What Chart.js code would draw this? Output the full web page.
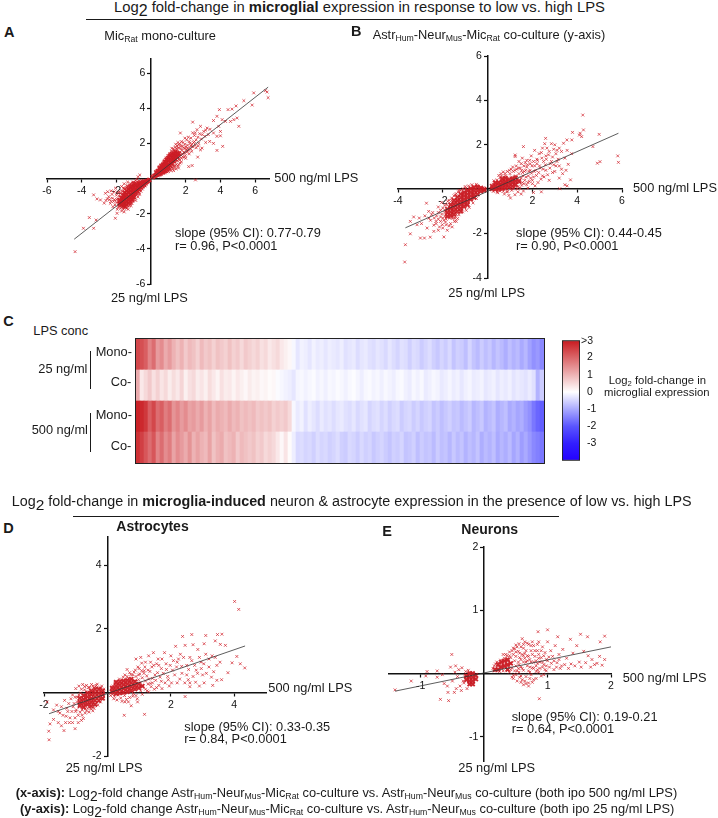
<!DOCTYPE html>
<html>
<head>
<meta charset="utf-8">
<script src="https://cdn.jsdelivr.net/npm/chart.js@4"></script>
<style>
  html, body { margin: 0; padding: 0; background: #fff; }
  #page { position: relative; width: 718px; height: 818px; overflow: hidden; font-family: "Liberation Sans", Arial, sans-serif; color: #1a1a1a; }
  #page canvas { position: absolute; }
  .t { position: absolute; white-space: nowrap; line-height: 1; transform: translateY(-50%); }
  .t sub { font-size: 0.68em; line-height: 0; vertical-align: -0.25em; }
  .t sub.big { font-size: 1.08em; vertical-align: -0.3em; }
  .rule { position: absolute; background: #1a1a1a; }
</style>
</head>
<body>
<div id="page"></div>
<script>
// Panel A values (x = 500 ng/ml, y = 25 ng/ml)
const slopeA = [[-4.43, -3.45], [6.75, 5.2]];
const pointsAOuter = [[6.69,4.92],[6.75,4.6],[6.6,5],[5.92,4.87],[5.35,4.43],[5.83,4.18],[4.9,4.13],[3.94,3.92],[4.44,3.92],[4.67,3.95],[3.8,3.54],[3.6,3.3],[4.1,3.35],[4.29,3.25],[4.58,3.25],[4.77,3.35],[4.96,3.44],[5.06,2.97],[2.4,3.21],[3.9,2.97],[4,2.68],[4.13,1.83],[3.8,1.6],[3.6,2],[3.38,2.11],[3.8,2.4],[4,2.43],[2.85,1.63],[2.94,1.73],[2.69,1.22],[2.37,0.74],[2.17,0.68],[2.56,-0.08],[3.23,2.87],[3.6,2.59],[3.04,2.68],[2.65,2.78],[2.85,2.97],[1.69,2.59],[3.3,2.5],[3.1,2.4],[2.8,2.55],[2.5,2.45],[2.3,2.3],[2.6,2.2],[2.9,2.25],[2.2,2.1],[2.45,2.05],[2.05,2.2],[2.75,2],[3.15,2.05],[2.3,1.85],[2.6,1.75],[2.1,1.9],[1.95,1.95],[2.35,1.55],[2.05,1.65],[1.85,2.05],[2.2,1.4],[1.9,1.2],[1.75,0.95],[1.6,0.8],[2,1.15],[1.45,0.55],[1.3,0.45]];
const pointsAPos = [[0.1,0.08],[0.15,0.1],[0.2,0.18],[0.25,0.15],[0.3,0.28],[0.3,0.18],[0.35,0.3],[0.38,0.22],[0.4,0.4],[0.42,0.3],[0.45,0.25],[0.48,0.45],[0.5,0.35],[0.52,0.5],[0.55,0.3],[0.55,0.42],[0.58,0.55],[0.6,0.4],[0.62,0.62],[0.62,0.33],[0.65,0.5],[0.68,0.7],[0.7,0.42],[0.7,0.58],[0.72,0.78],[0.75,0.5],[0.75,0.65],[0.78,0.38],[0.8,0.85],[0.8,0.58],[0.82,0.72],[0.85,0.45],[0.85,0.95],[0.88,0.65],[0.9,0.8],[0.9,0.52],[0.92,1.05],[0.95,0.7],[0.95,0.9],[0.98,0.48],[1,1.15],[1,0.82],[1.02,0.62],[1.05,1],[1.08,0.72],[1.1,1.25],[1.1,0.9],[1.12,0.55],[1.15,1.1],[1.18,0.8],[1.2,1.35],[1.2,0.98],[1.22,0.65],[1.25,1.2],[1.28,0.88],[1.3,1.45],[1.3,1.05],[1.32,0.7],[1.35,1.28],[1.38,0.95],[1.4,1.55],[1.4,1.12],[1.45,1.38],[1.45,0.8],[1.5,1.65],[1.5,1.2],[1.52,1],[1.55,1.45],[1.58,0.6],[1.6,1.75],[1.6,1.28],[1.65,1.5],[1.65,1.05],[1.7,1.85],[1.7,1.35],[1.78,1.6],[1.82,1.25],[1.88,1.75],[1.92,1.45],[2,1.8],[2.1,1.55],[0.58,0.72],[0.68,0.85],[0.78,1],[0.88,1.18],[0.98,1.3],[1.08,1.42],[1.18,1.55],[1.28,1.68],[1.38,1.78],[0.45,0.55],[0.36,0.42],[0.72,0.3],[0.92,0.38],[1.5,1.85],[1.2,1.72],[1.65,1.98],[1.42,1.95]];
const pointsANeg = [[-4.38,-4.16],[-3.9,-2.83],[-3.31,-2.83],[-3.56,-2.22],[-3.17,-2.36],[-3.31,-0.93],[-3.12,-1.16],[-2.92,-1.22],[-2.63,-0.84],[-2.44,-1.03],[-2.35,-1.41],[-2.06,-2.26],[-1.96,-1.98],[-2.2,-1.6],[-2.7,-1.4],[-2.5,-0.75],[-2.25,-0.9],[-2.1,-1.2],[-2.05,-0.55],[-1.9,-1.65],[-1.85,-1.3],[-1.82,-0.75],[-1.75,-1.05],[-1.7,-0.45],[-1.7,-1.85],[-1.65,-1.45],[-1.6,-0.8],[-1.58,-1.15],[-1.55,-0.55],[-1.5,-1.65],[-1.48,-1.3],[-1.45,-0.95],[-1.42,-0.7],[-1.4,-1.5],[-1.38,-0.4],[-1.35,-1.15],[-1.32,-1.75],[-1.3,-0.85],[-1.28,-0.55],[-1.25,-1.35],[-1.22,-1],[-1.2,-0.3],[-1.18,-0.7],[-1.15,-1.55],[-1.12,-1.15],[-1.1,-0.85],[-1.08,-0.5],[-1.05,-1.3],[-1.02,-0.95],[-1,-0.2],[-0.98,-0.65],[-0.95,-1.1],[-0.92,-0.8],[-0.9,-0.45],[-0.88,-1.25],[-0.85,-0.95],[-0.82,-0.3],[-0.8,-0.6],[-0.78,-0.78],[-0.75,-1.05],[-0.72,-0.45],[-0.7,-0.15],[-0.68,-0.65],[-0.65,-0.88],[-0.62,-0.35],[-0.6,-0.52],[-0.58,-0.72],[-0.55,-0.2],[-0.52,-0.42],[-0.5,-0.6],[-0.48,-0.3],[-0.45,-0.48],[-0.42,-0.1],[-0.4,-0.36],[-0.38,-0.22],[-0.35,-0.42],[-0.32,-0.28],[-0.3,-0.12],[-0.28,-0.34],[-0.25,-0.2],[-0.22,-0.1],[-0.2,-0.24],[-0.18,-0.14],[-0.15,-0.08],[-0.12,-0.12],[-0.1,-0.05],[-0.75,0.1],[-0.65,0.2],[-0.8,-0.05],[-0.9,-0.12],[-1.35,-0.2],[-1.55,-0.3],[-1.62,-1.02],[-1.46,-1.12],[-1.34,-0.62],[-1.16,-0.42],[-1.28,-1.08],[-1.12,-0.62],[-1,-0.8],[-1.06,-0.72],[-0.94,-0.56],[-0.86,-0.7],[-1.2,-1.22],[-1.38,-1.02],[-0.7,-0.9],[-1.1,-1.42],[-1,-1.2]];
const pointsAMid = [[-0.55,-0.12],[-0.62,-0.18],[-0.78,-0.2],[-0.88,-0.24],[-0.95,-0.28],[-1.06,-0.2],[-1.14,-0.3],[-1.24,-0.38],[-1.36,-0.45],[-1.44,-0.52],[-1.52,-0.62],[-1.6,-0.55],[-1.68,-0.7],[-1.76,-0.85],[-1.84,-1],[-1.92,-1.15],[-2,-1.35],[-2.08,-1.5],[-2.16,-1.3],[-2.24,-1.12],[-2.3,-1.3],[-2,-0.95],[-1.92,-0.8],[-2.12,-0.75],[-2.3,-0.7],[-2.4,-1.2],[-2.52,-1.15],[-2.6,-1.25],[-1.95,-1.75],[-1.85,-1.55],[-1.75,-1.7],[-1.6,-1.75],[-1.55,-1.9],[-1.42,-1.7],[-1.25,-1.55],[-1.18,-1.42],[-1.08,-1.25],[-0.92,-1],[-0.82,-0.88],[-0.72,-0.75],[-0.62,-0.62],[-1.98,-1.2],[-1.88,-1.42],[-1.78,-1.2],
  [0.4,0.15],[0.5,0.18],[0.6,0.22],[0.68,0.3],[0.82,0.32],[0.88,0.42],[1,0.4],[1.06,0.52],[1.15,0.45],[1.25,0.55],[1.35,0.6],[1.4,0.72],[1.55,0.72],[1.6,1.1],[1.68,0.88],[1.75,1.15],[1.8,1.4],[1.9,1.5],[1.95,1.7],[1.98,1.3],[2.05,1.5],[2.12,1.75],[2.18,1.6],[2.25,2],[2.28,1.7],[2.35,1.95],[2.42,1.8],[2.5,2.1],[2.55,1.9],[2.7,2.35],[2.72,1.85],[1.72,1.7],[1.8,1.85],[1.58,1.92],[1.48,1.72],[1.35,1.62],[1.25,1.52],[1.12,1.38],[1,1.3],[0.82,1.08],[0.7,0.92],[0.58,0.78],[0.48,0.65],[1.55,2.05],[1.75,2.1],[1.95,2.3],[2.15,2.35],[2.4,2.6],[2.55,2.6],[2.95,2.5],[3.15,2.75],[3.4,2.8]];
const coreA = [[0.1,0.08],[0.2,0.15],[0.3,0.2],[0.3,0.35],[0.4,0.25],[0.4,0.42],[0.5,0.28],[0.5,0.45],[0.5,0.6],[0.6,0.35],[0.6,0.52],[0.6,0.7],[0.7,0.4],[0.7,0.58],[0.7,0.78],[0.8,0.45],[0.8,0.62],[0.8,0.82],[0.8,0.95],[0.9,0.55],[0.9,0.72],[0.9,0.92],[0.9,1.08],[1,0.6],[1,0.8],[1,1],[1,1.18],[1.1,0.72],[1.1,0.9],[1.1,1.1],[1.1,1.3],[1.2,0.85],[1.2,1.02],[1.2,1.22],[1.2,1.4],[1.3,1],[1.3,1.18],[1.3,1.36],[1.4,1.1],[1.4,1.3],[1.4,1.5],[1.5,1.25],[1.5,1.45],[1.6,1.4],
  [-0.1,-0.08],[-0.2,-0.15],[-0.3,-0.22],[-0.4,-0.2],[-0.4,-0.35],[-0.5,-0.25],[-0.5,-0.42],[-0.6,-0.3],[-0.6,-0.5],[-0.7,-0.28],[-0.7,-0.45],[-0.7,-0.62],[-0.8,-0.35],[-0.8,-0.52],[-0.8,-0.7],[-0.9,-0.4],[-0.9,-0.6],[-0.9,-0.8],[-1,-0.3],[-1,-0.48],[-1,-0.68],[-1,-0.88],[-1,-1.05],[-1.1,-0.45],[-1.1,-0.62],[-1.1,-0.8],[-1.1,-1],[-1.1,-1.2],[-1.2,-0.5],[-1.2,-0.7],[-1.2,-0.9],[-1.2,-1.1],[-1.2,-1.3],[-1.3,-0.6],[-1.3,-0.8],[-1.3,-1],[-1.3,-1.2],[-1.3,-1.4],[-1.4,-0.7],[-1.4,-0.9],[-1.4,-1.1],[-1.4,-1.3],[-1.4,-1.5],[-1.5,-0.8],[-1.5,-1],[-1.5,-1.2],[-1.5,-1.4],[-1.5,-1.6],[-1.6,-0.95],[-1.6,-1.15],[-1.6,-1.35],[-1.6,-1.55],[-1.7,-1.1],[-1.7,-1.3],[-1.7,-1.5],[-1.8,-1.25],[-1.8,-1.45]];

// Panel B values
const slopeB = [[-3.67, -1.74], [5.84, 2.52]];
const pointsBOuter = [[4.25,3.34],[4.28,2.67],[4.2,2.37],[4.13,2.52],[4.1,2.44],[3.79,2.56],[4.98,2.47],[4.7,1.92],[5.81,1.5],[5.84,1.21],[5.02,1.24],[4.9,1.17],[2.59,2.29],[1.6,1.92],[1.23,1.54],[1.23,1.47],[3.54,2.22],[3.76,2.22],[3.39,2.07],[3.2,1.85],[3,2],[2.85,2.05],[2.55,2.05],[2.45,1.85],[2.75,1.7],[3.05,1.6],[3.3,1.7],[3.55,1.75],[3.75,1.6],[3.45,1.4],[3.15,1.35],[2.9,1.45],[2.6,1.5],[2.3,1.6],[2.1,1.75],[1.95,1.5],[2.2,1.35],[2.5,1.25],[2.8,1.15],[3.05,1.05],[3.6,1.12],[3.5,0.85],[3.35,0.7],[3.7,0.42],[3.2,0.5],[3.45,0.2],[3.55,0.15],[3.22,0.02],[2.9,0.75],[2.75,0.4],[2.6,0.85],[2.45,0.6],[2.35,0.95],[2.25,0.3],[2.4,-0.12],[2.05,-0.15],[1.8,0.05],[2.05,0.55],[1.9,0.85],[2.1,1.05],[1.75,1.3],[1.55,1.4],[1.4,1.25]];
const pointsBPos = [[0.22,0.02],[0.22,0.12],[0.25,0.22],[0.28,0.06],[0.3,0.3],[0.32,-0.04],[0.34,0.16],[0.38,0.06],[0.4,0.26],[0.42,0.42],[0.45,0.12],[0.46,-0.06],[0.5,0.32],[0.52,0.2],[0.54,0.05],[0.56,0.52],[0.6,0.14],[0.62,0.38],[0.64,0.26],[0.66,-0.02],[0.7,0.08],[0.72,0.46],[0.74,0.2],[0.78,0.32],[0.8,0.6],[0.82,0.1],[0.85,0.4],[0.88,0.22],[0.9,-0.1],[0.92,0.5],[0.95,0.3],[0.98,0.12],[1,0.7],[1.02,0.4],[1.05,0.2],[1.08,0.55],[1.1,0.02],[1.12,0.32],[1.15,0.8],[1.18,0.45],[1.2,0.15],[1.22,-0.25],[1.25,0.6],[1.28,0.3],[1.3,0.9],[1.34,0.45],[1.36,0.12],[1.4,0.7],[1.42,0.3],[1.46,0.95],[1.5,0.5],[1.52,0.18],[1.56,0.75],[1.6,-0.08],[1.62,1.05],[1.66,0.4],[1.7,0.85],[1.74,0.2],[1.78,1.1],[1.82,0.6],[1.86,0.35],[1.9,1.15],[1.96,0.72],[2,0.25],[2.15,0.85],[2.2,1.15],[0.5,0.62],[0.6,0.7],[0.7,0.78],[0.28,0.38],[0.45,-0.16],[0.75,-0.22],[0.95,-0.28],[1.02,-0.4],[1.35,-0.12],[1.5,-0.22]];
const pointsBNeg = [[-3.67,-2.5],[-3.7,-3.28],[-3.45,-1.45],[-3.45,-2.01],[-3.05,-1.3],[-3,-2.2],[-2.82,-2.2],[-2.56,-2.16],[-2.73,-0.63],[-2.63,-1],[-3.3,-1.25],[-3.15,-1.6],[-2.95,-1.55],[-2.8,-1.2],[-2.7,-1.75],[-2.55,-1.4],[-2.4,-1.9],[-2.45,-1.05],[-2.3,-1.55],[-2.2,-0.8],[-2.2,-1.85],[-2.1,-1.25],[-2.05,-0.6],[-2.02,-1.6],[-1.95,-2.15],[-1.9,-0.95],[-1.85,-1.35],[-1.8,-1.85],[-1.78,-0.55],[-1.72,-1.15],[-1.68,-0.85],[-1.65,-1.55],[-1.6,-0.4],[-1.58,-1.3],[-1.55,-1],[-1.5,-0.7],[-1.48,-1.45],[-1.45,-0.25],[-1.42,-0.9],[-1.4,-1.15],[-1.36,-0.55],[-1.34,-1.32],[-1.28,-0.05],[-1.12,-0.2],[-0.98,0.05],[-0.82,-0.02],[-0.64,0.1],[-0.48,0.16],[-0.3,0.1],[-0.2,0.06]];
const pointsBMid = [[0.25,-0.1],[0.42,-0.12],[0.55,-0.08],[0.62,0.6],[0.7,-0.1],[0.78,0.7],[0.85,-0.12],[0.88,0.8],[0.98,0.85],[1.05,0.9],[1.08,-0.05],[1.12,1],[1.18,0.05],[1.22,0.85],[1.28,1.05],[1.32,0.02],[1.38,0.95],[1.45,0.05],[1.5,1.15],[1.52,0.85],[1.55,0.3],[1.58,0.6],[1.62,0.25],[1.65,0.8],[1.68,1.2],[1.72,0.55],[1.75,1],[1.8,0.3],[1.85,0.8],[1.88,1.3],[1.92,0.5],[1.98,1.05],[2,0.4],[2.05,1.25],[2.08,0.8],[2.12,0.15],[2.18,0.62],[2.22,1.3],[2.28,0.75],[2.32,1.05],[2.38,0.45],[2.42,1.4],[2.48,0.9],[2.52,0.55],[2.58,1.1],[2.62,1.35],[2.68,0.65],[2.72,1.55],[2.78,0.95],[2.85,1.25],[2.95,1.1],[3,0.8],[3.1,1.25],[3.2,1.05],[3.3,0.9],[2.4,1.65],[2.65,1.85],[2.95,1.8],[3.1,1.75],
  [-0.5,0.22],[-0.7,0.2],[-0.85,0.15],[-1,0.12],[-1.1,0.02],[-1.2,-0.05],[-1.3,-0.12],[-1.4,-0.2],[-1.5,-0.3],[-1.6,-0.5],[-1.72,-0.5],[-1.82,-0.7],[-1.92,-0.72],[-2,-0.85],[-2.1,-0.95],[-2.2,-1.05],[-2.28,-1.2],[-2.38,-1.3],[-2.5,-1.15],[-2.62,-1.3],[-2.1,-1.45],[-2,-1.3],[-1.9,-1.2],[-1.95,-1.4],[-1.85,-1.6],[-1.72,-1.65],[-1.58,-1.7],[-1.45,-1.3],[-1.28,-1.15],[-1.12,-1.02],[-0.95,-0.95],[-0.82,-0.82],[-0.65,-0.62],[-0.5,-0.42],[-2.2,-1.35],[-2.3,-1.45],[-2.4,-1.62],[-2.15,-1.7],[-2,-1.75],[-1.88,-1.48],[-1.52,-1.3],[-1.4,-1.45],[-1.68,-1.3],[-1.78,-1.05],[-1.9,-1.05],[-2.05,-1.12]];
const coreB = [[-0.15,0],[-0.15,-0.05],[-0.3,0.05],[-0.3,-0.1],[-0.45,0.1],[-0.45,-0.06],[-0.45,-0.22],[-0.6,0.08],[-0.6,-0.08],[-0.6,-0.24],[-0.6,-0.38],[-0.75,0.02],[-0.75,-0.14],[-0.75,-0.3],[-0.75,-0.46],[-0.9,-0.06],[-0.9,-0.22],[-0.9,-0.38],[-0.9,-0.54],[-0.9,-0.7],[-1.05,-0.14],[-1.05,-0.3],[-1.05,-0.46],[-1.05,-0.62],[-1.05,-0.78],[-1.2,-0.22],[-1.2,-0.38],[-1.2,-0.54],[-1.2,-0.7],[-1.2,-0.86],[-1.2,-1],[-1.35,-0.36],[-1.35,-0.52],[-1.35,-0.68],[-1.35,-0.84],[-1.35,-1],[-1.5,-0.5],[-1.5,-0.66],[-1.5,-0.82],[-1.5,-0.98],[-1.5,-1.14],[-1.65,-0.7],[-1.65,-0.86],[-1.65,-1.02],[-1.65,-1.18],[-1.8,-0.9],[-1.8,-1.06],[-1.8,-1.22],
  [0.2,0.02],[0.2,0.14],[0.35,0],[0.35,0.14],[0.35,0.28],[0.5,0.02],[0.5,0.16],[0.5,0.3],[0.65,0.04],[0.65,0.18],[0.65,0.32],[0.65,0.46],[0.8,0.06],[0.8,0.2],[0.8,0.34],[0.8,0.5],[0.95,0.1],[0.95,0.26],[0.95,0.42],[1.1,0.14],[1.1,0.3],[1.1,0.46],[1.25,0.2],[1.25,0.36],[1.25,0.52],[1.4,0.36]];

// Panel D values
const slopeD = [[-1.84, -0.67], [4.34, 1.46]];
const pointsDOuter = [[4.01,2.86],[4.14,2.61],[2.66,1.82],[2.37,1.76],[3.1,1.79],[3.47,1.82],[3.61,1.83],[3.72,1.48],[3.56,1.51],[3.4,1.62],[3.05,1.53],[4.33,0.77],[4.19,0.9],[3.93,0.93],[4.08,1.13],[3.8,0.62],[3.45,0.38],[3.32,0.22],[0.53,-0.72],[1.17,-0.69],[2.45,-0.13],[3.55,0.95],[3.45,0.85],[3.3,1.15],[3.2,0.8],[3.1,1.2],[3,0.55],[2.95,0.95],[2.85,1.35],[2.8,0.7],[2.7,1.5],[2.6,1.1],[2.55,0.4],[2.5,0.85],[2.45,1.48],[2.35,0.6],[2.3,1.2],[2.2,0.3],[2.2,0.95],[2.15,1.45],[2.05,0.7],[2,1.15],[1.95,0.2],[1.9,0.5],[1.85,0.9],[1.8,1.25],[1.7,0.35],[1.7,0.75],[1.6,1.05],[1.55,0.15],[1.5,0.55],[1.45,1.25],[1.4,0.8],[1.3,1.15],[1.3,0.42],[1.25,0.05],[1.2,0.95],[1.15,0.6],[1.05,1.1],[1,0.75],[0.9,1.05],[2.6,0.18],[2.9,0.2],[3.6,0.4],[3.05,0.3],[2.75,0.85],[3.35,0.65],[0.95,-0.3],[0.75,-0.42],[0.55,-0.3]];
const pointsDPos = [[0.12,0.02],[0.14,0.12],[0.16,-0.06],[0.18,0.2],[0.2,0.06],[0.22,-0.12],[0.24,0.28],[0.26,0.14],[0.28,0.02],[0.3,0.34],[0.32,0.2],[0.34,-0.08],[0.36,0.08],[0.38,0.42],[0.4,0.26],[0.42,-0.18],[0.44,0.14],[0.46,0.34],[0.48,0.02],[0.5,0.48],[0.52,0.22],[0.54,-0.1],[0.56,0.38],[0.58,0.12],[0.6,0.28],[0.62,0.72],[0.64,0.04],[0.66,0.44],[0.68,0.2],[0.7,-0.16],[0.72,0.32],[0.74,0.56],[0.76,0.1],[0.78,0.42],[0.8,0.24],[0.82,-0.04],[0.84,0.64],[0.86,0.36],[0.88,0.16],[0.9,0.5],[0.92,0.28],[0.94,-0.2],[0.96,0.8],[0.98,0.4],[1,0.14],[1.02,0.58],[1.04,0.3],[1.08,0.92],[1.1,0.46],[1.12,0.2],[1.16,0.68],[1.2,0.36],[1.24,0.52],[1.28,0.26],[1.34,0.66],[1.38,0.18],[1.42,0.44]];
const pointsDNeg = [[-1.84,-1.49],[-1.85,-1.22],[-1.81,-0.99],[-1.37,-1.2],[-1.02,-1.14],[-1.9,-0.3],[-1.6,-0.4],[-1.7,-0.85],[-1.55,-0.95],[-1.5,-0.65],[-1.45,-1.05],[-1.35,-0.25],[-1.3,-0.75],[-1.28,-0.5],[-1.2,-0.95],[-1.15,-0.2],[-1.12,-0.6],[-1.1,-0.08],[-1.05,-0.35],[-1.02,-0.8],[-1,0.12],[-0.98,-0.55],[-0.95,-0.15],[-0.92,-0.72],[-0.9,0.2],[-0.88,-0.38],[-0.85,-0.02],[-0.82,-0.88],[-0.8,-0.55],[-0.78,0.25],[-0.76,-0.22],[-0.74,-0.42],[-0.72,0.08],[-0.7,-0.65],[-0.68,-0.12],[-0.66,0.22],[-0.64,-0.32],[-0.62,-0.5],[-0.6,0.02],[-0.58,-0.2],[-0.56,0.16],[-0.54,-0.42],[-0.52,-0.08],[-0.5,0.25],[-0.48,-0.28],[-0.46,-0.58],[-0.44,0.06],[-0.38,0.18],[-0.32,0.26],[-0.24,0.14],[-0.18,0.2],[-0.12,0.1]];
const pointsDMid = [[0.1,-0.1],[0.2,-0.2],[0.3,-0.24],[0.46,-0.28],[0.6,-0.22],[0.66,-0.3],[0.8,-0.12],[0.9,-0.1],[1.05,0.05],[1.1,-0.06],[1.2,0.1],[1.3,0.02],[1.35,0.28],[1.42,0.3],[1.48,0.1],[1.52,0.38],[1.58,0.62],[1.62,0.22],[1.66,0.48],[1.72,0.12],[1.76,0.6],[1.82,0.3],[1.86,0.72],[1.92,0.4],[1.98,0.85],[2.02,0.3],[2.08,1],[2.12,0.55],[2.18,0.8],[2.24,1.05],[2.28,0.42],[2.34,0.82],[2.4,1.1],[2.44,0.3],[2.5,0.55],[2.56,0.72],[2.6,0.3],[2.66,1],[2.7,0.5],[2.78,0.32],[2.84,0.6],[2.9,1.1],[2.96,0.75],[3.04,0.9],[3.12,0.6],[3.2,1.05],[3.28,0.48],[3.4,1.1],[0.55,0.55],[0.62,0.5],[0.7,0.62],[0.8,0.55],[0.88,0.7],[0.98,0.55],[1.08,0.68],[1.18,0.8],[1.28,0.7],[1.36,0.95],[1.46,0.85],[1.55,0.9],[1.62,0.85],[1.72,1.05],
  [-1.7,-0.55],[-1.55,-0.6],[-1.45,-0.45],[-1.4,-0.72],[-1.32,-0.95],[-1.25,-0.6],[-1.22,-0.35],[-1.18,-0.8],[-1.1,-0.95],[-1.08,-0.45],[-1.02,-0.15],[-1,-0.6],[-0.95,-0.3],[-0.92,-0.95],[-0.9,-0.08],[-0.86,-0.62],[-0.82,0.1],[-0.8,-0.72],[-0.76,-0.82],[-0.72,0.18],[-0.7,-0.52],[-0.66,-0.58],[-0.6,0.15],[-0.58,-0.62],[-0.52,-0.52],[-0.46,0.2],[-0.42,-0.5],[-0.35,0.22],[-0.3,-0.4],[-0.22,-0.3],[-0.2,0.14]];
const coreD = [[-0.15,0.05],[-0.15,-0.07],[-0.15,-0.19],[-0.27,0.1],[-0.27,-0.02],[-0.27,-0.14],[-0.27,-0.26],[-0.39,0.1],[-0.39,-0.02],[-0.39,-0.14],[-0.39,-0.26],[-0.39,-0.38],[-0.51,0.05],[-0.51,-0.07],[-0.51,-0.19],[-0.51,-0.31],[-0.51,-0.43],[-0.63,-0.02],[-0.63,-0.14],[-0.63,-0.26],[-0.63,-0.38],[-0.75,-0.1],[-0.75,-0.22],[-0.75,-0.34],[-0.75,-0.46],[-0.87,-0.18],[-0.87,-0.3],[-0.87,-0.42],
  [0.15,0.02],[0.15,0.14],[0.27,-0.04],[0.27,0.08],[0.27,0.2],[0.27,0.32],[0.39,-0.02],[0.39,0.1],[0.39,0.22],[0.39,0.34],[0.51,0],[0.51,0.12],[0.51,0.24],[0.51,0.36],[0.63,0.02],[0.63,0.14],[0.63,0.26],[0.63,0.38],[0.75,0.06],[0.75,0.18],[0.75,0.3],[0.75,0.42],[0.87,0.1],[0.87,0.22],[0.87,0.34],[0.99,0.14],[0.99,0.26],[1.1,0.2]];

// Panel E values
const slopeE = [[-1.405, -0.28], [2, 0.42]];
const pointsEOuter = [[-1.405,-0.26],[-0.51,0.3],[-0.69,-0.41],[-0.56,-0.43],[0.87,-0.4],[0.85,0.66],[1,0.69],[1.52,0.62],[1.9,0.59],[1.83,0.5],[1.63,0.58],[1.36,0.54],[1.16,0.58],[-0.92,-0.04],[-0.9,0.03],[-0.74,-0.06],[-0.74,0.04],[-0.66,-0.02],[-0.63,-0.16],[-0.58,-0.2],[-0.57,-0.3],[-0.53,0.1],[-0.5,-0.12],[-0.47,-0.3],[-0.45,0.12],[-0.44,-0.24],[-0.42,-0.05],[-0.46,0.02],[-0.4,0.06],[-0.38,-0.2],[-0.36,-0.27],[-0.35,0.09],[-0.33,-0.12],[-0.3,-0.05],[-0.29,0.03],[-0.27,-0.24],[-0.25,0.05],[-0.32,-0.15],[-1.15,-0.12]];
const pointsEPos = [[0.14,0.08],[0.16,0.04],[0.16,0.12],[0.18,0.15],[0.2,0.06],[0.2,0.18],[0.22,0.11],[0.24,0.03],[0.24,0.16],[0.26,0.21],[0.26,0.09],[0.28,0.13],[0.3,0.04],[0.3,0.18],[0.32,0.24],[0.32,0.1],[0.34,0.15],[0.36,0.06],[0.36,0.28],[0.38,0.2],[0.38,0.12],[0.4,0.34],[0.4,0.02],[0.42,0.16],[0.42,0.25],[0.44,0.09],[0.46,0.3],[0.46,-0.03],[0.48,0.2],[0.48,0.39],[0.5,0.12],[0.5,0.27],[0.52,0.04],[0.54,0.35],[0.54,0.18],[0.56,-0.06],[0.56,0.25],[0.58,0.42],[0.58,0.1],[0.6,0.3],[0.6,-0.1],[0.62,0.18],[0.62,0.05],[0.64,0.5],[0.64,0.24],[0.66,-0.05],[0.66,0.36],[0.68,0.12],[0.7,0.46],[0.7,0.27],[0.7,-0.15],[0.72,0.02],[0.74,0.36],[0.74,0.18],[0.76,0.09],[0.78,0.44],[0.78,-0.1],[0.8,0.27],[0.82,0.03],[0.84,0.16],[0.84,0.36],[0.86,0.5],[0.88,0.08],[0.9,0.25],[0.9,-0.04],[0.92,0.42],[0.94,0.14],[0.96,0.33],[0.98,0.04],[1,0.5],[1,0.2],[1.03,0.1],[1.05,0.36],[1.08,0.27],[1.1,0.06],[1.12,0.44],[1.15,0.17],[1.18,0.3],[1.2,0.08],[1.24,0.38],[1.27,0.14],[1.3,0.24],[1.33,0.08],[1.37,0.15],[1.4,0.32],[1.43,0.12],[1.46,0.44],[1.5,0.18],[1.53,0.1],[1.57,0.35],[1.6,0.17],[1.64,0.28],[1.68,0.1],[1.7,0.22],[1.74,0.14],[1.78,0.16],[1.82,0.27],[1.86,0.13],[1.9,0.22],[0.55,0.14],[0.62,0.28],[0.68,0.2],[0.72,0.1],[0.78,0.18],[0.82,0.12],[0.86,0.24],[0.92,0.18],[0.98,0.12],[0.46,-0.08],[0.52,-0.12],[0.58,-0.04],[0.64,-0.12],[0.72,-0.08]];
const pointsEMid = [[0.3,0.3],[0.34,0.3],[0.4,0.28],[0.44,0.36],[0.46,0.4],[0.5,0.34],[0.52,0.42],[0.55,0.02],[0.56,0.32],[0.58,0.22],[0.6,0.08],[0.62,0.4],[0.64,0.32],[0.66,0.18],[0.68,0.28],[0.7,0.04],[0.72,0.22],[0.74,0.44],[0.76,0.3],[0.78,0.08],[0.8,0.36],[0.82,0.2],[0.84,0.06],[0.86,0.3],[0.88,0.18],[0.9,0.36],[0.92,0.1],[0.94,0.28],[0.96,0.06],[0.98,0.22],[1.02,0.26],[1.06,0.16],[1.1,0.2],[1.14,0.1],[1.18,0.22],[1.22,0.12],[0.42,0.06],[0.48,0.04],[0.5,-0.02],[0.54,0.08],[0.58,-0.14],[0.66,-0.16],[0.74,-0.02],[0.76,-0.14],[0.82,-0.08],[0.86,0.02],[0.94,-0.02],[0.5,0.45],[0.55,0.47],[0.62,0.46],[0.68,0.48],[0.76,0.5],[0.84,0.46],[0.44,-0.06],[0.62,-0.18],[0.7,-0.2],[0.6,0.55]];
const coreE = [[-0.28,-0.04],[-0.28,-0.1],[-0.23,0],[-0.23,-0.06],[-0.23,-0.12],[-0.23,-0.17],[-0.18,0],[-0.18,-0.06],[-0.18,-0.12],[-0.18,-0.17],[-0.13,-0.03],[-0.13,-0.09],
  [0.17,0.06],[0.22,0.06],[0.22,0.14],[0.27,0.1],[0.27,0.18],[0.32,0.12],[0.32,0.2],[0.37,0.06],[0.37,0.14],[0.37,0.22],[0.42,0.16]];

// Panel C heatmap rows, one value per column
const heat25Mono = [2.4,2.3,2.1,1.6,1.9,1.3,1.5,1.1,1.3,1,0.8,1,0.7,0.9,0.8,0.6,0.9,0.7,0.8,0.6,0.8,0.7,0.6,0.8,0.6,0.7,0.5,0.7,0.6,0.5,0.6,0.4,0.5,0.3,0.4,0.5,0.3,0.2,0.1,-0.1,-0.3,-0.15,-0.2,-0.3,-0.15,-0.25,-0.2,-0.3,-0.2,-0.25,-0.3,-0.2,-0.35,-0.3,-0.25,-0.4,-0.3,-0.25,-0.35,-0.4,-0.3,-0.35,-0.45,-0.3,-0.4,-0.5,-0.35,-0.4,-0.55,-0.4,-0.45,-0.6,-0.5,-0.4,-0.55,-0.65,-0.5,-0.6,-0.45,-0.7,-0.55,-0.6,-0.75,-0.5,-0.7,-0.8,-0.6,-0.75,-0.65,-0.85,-0.7,-0.8,-0.95,-0.75,-0.9,-0.8,-1,-0.85,-1.1,-1.3,-1.2,-1.4];
const heat25Co = [1.1,0.3,0.5,0.7,0.4,0.6,0.35,0.5,0.25,0.45,0.3,0.55,0.2,0.4,0.5,0.25,0.35,0.2,0.45,0.3,0.15,0.4,0.25,0.3,0.15,0.3,0.2,0.1,0.25,0.15,0.2,0.1,0.15,0.05,0.1,-0.05,-0.1,-0.15,-0.2,-0.3,-0.12,-0.08,-0.15,-0.1,-0.05,-0.15,-0.1,-0.18,-0.08,-0.12,-0.05,-0.1,-0.16,-0.08,-0.04,-0.12,-0.2,-0.1,-0.06,-0.14,-0.1,-0.18,-0.08,-0.14,-0.2,-0.1,-0.06,-0.16,-0.22,-0.1,-0.16,-0.08,-0.24,-0.18,-0.1,-0.14,-0.26,-0.2,-0.12,-0.22,-0.16,-0.28,-0.18,-0.12,-0.24,-0.2,-0.14,-0.28,-0.22,-0.16,-0.3,-0.2,-0.26,-0.18,-0.32,-0.24,-0.28,-0.34,-0.24,-0.36,-0.9,-0.6];
const heat500Mono = [2.9,2.8,2.6,2.1,2.4,1.9,2.1,1.7,1.9,1.4,1.6,1.3,1.5,1.2,1.3,1.1,1.3,1,1.2,0.9,1.1,1,0.9,1.1,0.9,1,0.8,0.9,0.8,0.9,0.7,0.8,0.7,0.8,0.6,0.7,0.6,0.7,0.5,-0.1,-0.25,-0.15,-0.35,-0.2,-0.3,-0.4,-0.25,-0.35,-0.3,-0.4,-0.3,-0.25,-0.35,-0.4,-0.3,-0.45,-0.35,-0.3,-0.5,-0.4,-0.35,-0.5,-0.4,-0.55,-0.45,-0.4,-0.6,-0.5,-0.45,-0.6,-0.5,-0.65,-0.55,-0.5,-0.7,-0.6,-0.75,-0.65,-0.55,-0.7,-0.65,-0.8,-0.7,-0.6,-0.85,-0.75,-0.65,-0.9,-0.8,-0.7,-0.95,-0.85,-0.75,-1,-0.9,-1.05,-0.95,-1.15,-1.3,-1.6,-1.8,-1.9];
const heat500Co = [2.7,2.5,2.2,1.9,2.2,1.6,1.9,1.5,1.7,1.2,1.5,1.3,1.1,1.4,1,1.2,1,0.9,1.2,0.8,1,1.1,0.8,0.9,1,0.7,0.9,0.8,0.7,0.8,0.6,0.7,0.5,0.6,0.5,0.3,0.1,0.35,0.05,-0.2,-0.45,-0.4,-0.5,-0.45,-0.55,-0.4,-0.5,-0.45,-0.55,-0.5,-0.4,-0.55,-0.6,-0.45,-0.5,-0.6,-0.45,-0.55,-0.5,-0.65,-0.55,-0.5,-0.6,-0.7,-0.55,-0.6,-0.5,-0.7,-0.65,-0.55,-0.75,-0.6,-0.7,-0.65,-0.8,-0.6,-0.75,-0.7,-0.85,-0.65,-0.8,-0.7,-0.9,-0.75,-0.85,-0.7,-0.95,-0.8,-0.9,-0.75,-1,-0.85,-0.95,-0.8,-1.05,-0.9,-1.15,-1,-1.2,-1.4,-1.5,-1.6];

// Colour scale: [value, r, g, b]
const colorStops = [[3,200,25,30],[0,255,255,255],[-1,170,170,255],[-2,90,85,255],[-3,50,30,255],[-4,35,0,255]];
const colorbarTicks = [2, 1, 0, -1, -2, -3];

const AXIS = '#111';
const PAD = 24;
const page = document.getElementById('page');

Chart.defaults.font.family = '"Liberation Sans", Arial, sans-serif';
Chart.defaults.animation = false;
Chart.defaults.events = [];

function addCanvas(left, top, width, height) {
  const canvas = document.createElement('canvas');
  canvas.width = width;
  canvas.height = height;
  canvas.style.left = left + 'px';
  canvas.style.top = top + 'px';
  canvas.style.width = width + 'px';
  canvas.style.height = height + 'px';
  page.appendChild(canvas);
  return canvas;
}

function heatColor(v) {
  for (let i = 0; i < colorStops.length - 1; i++) {
    const a = colorStops[i], b = colorStops[i + 1];
    if (v <= a[0] && v >= b[0]) {
      const f = (a[0] - v) / (a[0] - b[0]);
      return `rgb(${a[1] + (b[1] - a[1]) * f},${a[2] + (b[2] - a[2]) * f},${a[3] + (b[3] - a[3]) * f})`;
    }
  }
  return v > 0 ? 'rgb(200,25,30)' : 'rgb(35,0,255)';
}

function axisOptions(min, max, ticks, cross, tickLabel, padding) {
  return {
    type: 'linear',
    min,
    max,
    position: cross,
    afterBuildTicks: (scale) => { scale.ticks = ticks.map((value) => ({ value })); },
    border: { color: AXIS, width: 1.5 },
    grid: { drawOnChartArea: false, drawTicks: true, tickLength: 3, tickColor: AXIS, tickWidth: 1.2 },
    ticks: { color: '#111', font: { size: 10.5 }, padding, maxRotation: 0, autoSkip: false, callback: tickLabel },
  };
}

// y labels sit right on the axis when it is placed at x=0, the nbsp push them off it
const plainLabel = (v) => v;
const yLabel = (v) => v + '\u00a0\u00a0';

function scatterPanel(rect, xRange, yRange, xTicks, yTicks, fit, points, core) {
  const canvas = addCanvas(rect.left - PAD, rect.top - PAD, rect.width + PAD * 2, rect.height + PAD * 2);
  return new Chart(canvas, {
    type: 'scatter',
    data: {
      datasets: [
        {
          type: 'line',
          data: fit.map(([x, y]) => ({ x, y })),
          borderColor: '#333',
          borderWidth: 0.8,
          pointRadius: 0,
          clip: false,
        },
        {
          data: points.map(([x, y]) => ({ x, y })),
          pointStyle: 'crossRot',
          pointRadius: 2,
          borderWidth: 1,
          borderColor: 'rgba(208,30,40,0.7)',
          clip: false,
        },
        {
          data: core.map(([x, y]) => ({ x, y })),
          pointStyle: 'crossRot',
          pointRadius: 2.8,
          borderWidth: 1.9,
          borderColor: 'rgba(200,28,36,0.95)',
          clip: false,
        },
      ],
    },
    options: {
      responsive: false,
      layout: { padding: PAD },
      plugins: { legend: { display: false }, tooltip: { enabled: false } },
      scales: {
        x: axisOptions(xRange[0], xRange[1], xTicks, { y: 0 }, plainLabel, 3),
        y: axisOptions(yRange[0], yRange[1], yTicks, { x: 0 }, yLabel, 1),
      },
    },
  });
}

function heatmap() {
  const rows = [heat500Co, heat500Mono, heat25Co, heat25Mono];
  const canvas = addCanvas(136, 339, 408, 124);
  canvas.style.outline = '1.5px solid #222';
  return new Chart(canvas, {
    type: 'bar',
    data: {
      labels: heat25Mono.map((_, i) => i),
      datasets: rows.map((row) => ({
        data: row.map(() => 1),
        backgroundColor: row.map(heatColor),
        borderWidth: 0,
        barPercentage: 1,
        categoryPercentage: 1,
      })),
    },
    options: {
      responsive: false,
      plugins: { legend: { display: false }, tooltip: { enabled: false } },
      scales: {
        x: { stacked: true, display: false },
        y: { stacked: true, display: false, min: 0, max: 4 },
      },
    },
  });
}

function colorbar() {
  const canvas = addCanvas(562, 324, 50, 153);
  return new Chart(canvas, {
    type: 'bar',
    data: {
      labels: ['scale'],
      datasets: [{
        data: [[-4, 3]],
        barPercentage: 1,
        categoryPercentage: 1,
        borderWidth: 1.2,
        borderColor: '#222',
        borderSkipped: false,
        backgroundColor: (ctx) => {
          const { chartArea, scales } = ctx.chart;
          if (!chartArea) return '#fff';
          const g = ctx.chart.ctx.createLinearGradient(0, scales.y.getPixelForValue(3), 0, scales.y.getPixelForValue(-4));
          colorStops.forEach(([v, r, gr, b]) => g.addColorStop((3 - v) / 7, `rgb(${r},${gr},${b})`));
          return g;
        },
      }],
    },
    options: {
      responsive: false,
      layout: { padding: { top: 8, bottom: 8, left: 0, right: 0 } },
      plugins: { legend: { display: false }, tooltip: { enabled: false } },
      scales: {
        x: { display: false },
        y: {
          position: 'right',
          min: -4,
          max: 3,
          afterBuildTicks: (scale) => { scale.ticks = colorbarTicks.map((value) => ({ value })); },
          afterFit: (scale) => { scale.width = 32; },
          border: { display: false },
          grid: { drawOnChartArea: false, drawTicks: true, tickLength: -3, tickColor: '#111', tickWidth: 1.2 },
          ticks: { color: '#111', font: { size: 10.5 }, padding: 10, callback: (v) => v },
        },
      },
    },
  });
}

function text(html, left, cy, size, extra) {
  const el = document.createElement('div');
  el.className = 't';
  el.innerHTML = html;
  el.style.left = left + 'px';
  el.style.top = cy + 'px';
  el.style.fontSize = size + 'px';
  if (extra) Object.assign(el.style, extra);
  page.appendChild(el);
}

function rule(left, top, width, height) {
  const el = document.createElement('div');
  el.className = 'rule';
  Object.assign(el.style, { left: left + 'px', top: top + 'px', width: width + 'px', height: height + 'px' });
  page.appendChild(el);
}

scatterPanel({ left: 47, top: 59, width: 222, height: 225 }, [-6, 6.8], [-6, 6.8], [-6, -4, -2, 2, 4, 6], [-6, -4, -2, 2, 4, 6], slopeA, [...pointsAOuter, ...pointsAPos, ...pointsANeg, ...pointsAMid], coreA);
scatterPanel({ left: 398, top: 56, width: 224, height: 222 }, [-4, 6], [-4, 6], [-4, -2, 2, 4, 6], [-4, -2, 2, 4, 6], slopeB, [...pointsBOuter, ...pointsBPos, ...pointsBNeg, ...pointsBMid], coreB);
scatterPanel({ left: 44, top: 537, width: 222, height: 219 }, [-2, 5], [-2, 4.887], [-2, 2, 4], [-2, 2, 4], slopeD, [...pointsDOuter, ...pointsDPos, ...pointsDNeg, ...pointsDMid], coreD);
scatterPanel({ left: 389, top: 547, width: 222, height: 214 }, [-1.5, 2], [-1.385, 2], [-1, 1, 2], [-1, 1, 2], slopeE, [...pointsEOuter, ...pointsEPos, ...pointsEMid], coreE);
heatmap();
colorbar();

const hum = 'Astr<sub>Hum</sub>-Neur<sub>Mus</sub>';
const humMic = hum + '-Mic<sub>Rat</sub>';
const bigLog = 'Log<sub class="big">2</sub>';

text(`${bigLog} fold-change in <b>microglial</b> expression in response to low vs. high LPS`, 114, 7, 14.8);
rule(86, 18.6, 486, 1.3);
text('A', 4, 31.7, 14.5, { fontWeight: 'bold' });
text('Mic<sub>Rat</sub> mono-culture', 104.3, 35.7, 12.8);
text('500 ng/ml LPS', 274.3, 177.7, 12.8);
text('25 ng/ml LPS', 111, 297.7, 12.8);
text('slope (95% CI): 0.77-0.79', 175, 233.3, 12.8);
text('r= 0.96, P&lt;0.0001', 175, 246, 12.8);

text('B', 351, 30.7, 14.5, { fontWeight: 'bold' });
text(`${humMic} co-culture (y-axis)`, 372.7, 35.3, 12.8);
text('500 ng/ml LPS', 633, 187.7, 12.8);
text('25 ng/ml LPS', 448.3, 293.3, 12.8);
text('slope (95% CI): 0.44-0.45', 516, 232.7, 12.8);
text('r= 0.90, P&lt;0.0001', 516, 245.7, 12.8);

text('C', 3.3, 321, 14.5, { fontWeight: 'bold' });
text('LPS conc', 33.3, 331, 12.8);
text('Mono-', 95.7, 351.7, 12.8);
text('Co-', 110.7, 382.3, 12.8);
text('Mono-', 95.7, 414.7, 12.8);
text('Co-', 110.7, 445.7, 12.8);
text('25 ng/ml', 38.3, 369.3, 12.8);
text('500 ng/ml', 31.7, 430, 12.8);
rule(90, 350.7, 1.3, 38.6);
rule(90, 413.3, 1.3, 39);
text('&gt;3', 581, 339.5, 10.5);
text('Log<sub>2</sub> fold-change in', 608.7, 380.7, 11.3);
text('microglial expression', 604, 393.3, 11.3);

text(`${bigLog} fold-change in <b>microglia-induced</b> neuron &amp; astrocyte expression in the presence of low vs. high LPS`, 11.7, 500.7, 14.35);
rule(73.3, 515.5, 486, 1.1);
text('D', 3.3, 527.7, 14.5, { fontWeight: 'bold' });
text('Astrocytes', 116.3, 525.7, 14, { fontWeight: 'bold' });
text('500 ng/ml LPS', 268.3, 688.3, 12.8);
text('25 ng/ml LPS', 65.7, 767.7, 12.8);
text('slope (95% CI): 0.33-0.35', 184.3, 726.7, 12.8);
text('r= 0.84, P&lt;0.0001', 184.3, 739.3, 12.8);

text('E', 382.3, 530.7, 14.5, { fontWeight: 'bold' });
text('Neurons', 461.3, 529, 14, { fontWeight: 'bold' });
text('500 ng/ml LPS', 622.7, 677.7, 12.8);
text('25 ng/ml LPS', 458.3, 767.7, 12.8);
text('slope (95% CI): 0.19-0.21', 511.7, 716.7, 12.8);
text('r= 0.64, P&lt;0.0001', 511.7, 729.3, 12.8);

text(`<b>(x-axis):</b> ${bigLog}-fold change ${humMic} co-culture vs. ${hum} co-culture (both ipo 500 ng/ml LPS)`, 15.7, 792.7, 12.85);
text(`<b>(y-axis):</b> ${bigLog}-fold change ${humMic} co-culture vs. ${hum} co-culture (both ipo 25 ng/ml LPS)`, 20, 809, 12.85);
</script>
</body>
</html>
